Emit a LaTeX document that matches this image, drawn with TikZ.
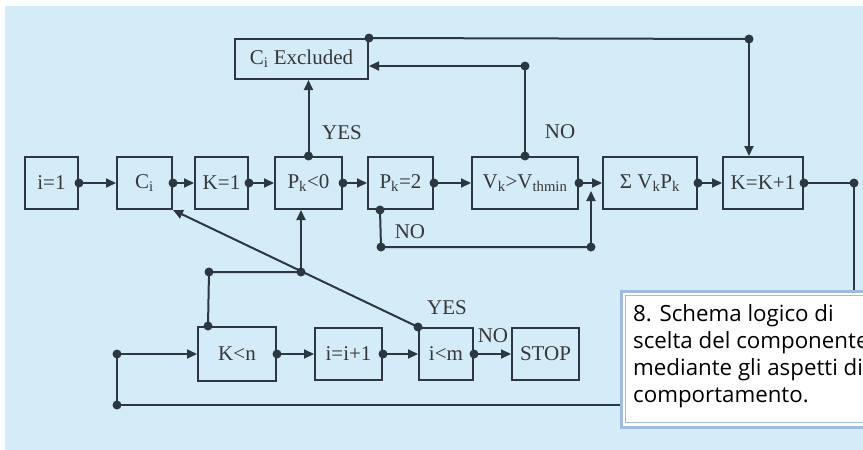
\documentclass[tikz,border=0pt]{standalone}
\usepackage{fontspec}
\setmainfont{Liberation Serif}
\newfontfamily\capfont{Open Sans}
\usetikzlibrary{arrows.meta}

\definecolor{bgblue}{RGB}{211,236,248}
\definecolor{linec}{RGB}{45,55,65}
\definecolor{txtc}{RGB}{55,55,55}
\definecolor{capedge}{RGB}{160,186,230}

\begin{document}
\begin{tikzpicture}[x=1pt,y=-1pt,font=\fontsize{21}{23}\selectfont,
  box/.style={draw=linec,line width=2pt,fill=bgblue,text=txtc,minimum height=52pt,inner sep=2pt},
  wire/.style={draw=linec,line width=2pt},
  flow/.style={wire,-{Triangle[length=10pt,width=9pt]}},
  lab/.style={text=txtc,inner sep=0pt}]

\useasboundingbox (0,0) rectangle (863,450);
\clip (0,0) rectangle (863,450);
\fill[white] (0,0) rectangle (863,450);
\fill[bgblue] (5,6) rectangle (863,450);

% upper row
\node[box,minimum width=53pt] (i1) at (51.5,183) {i=1};
\node[box,minimum width=55pt] (ci) at (144.5,183) {C\textsubscript{i}};
\node[box,minimum width=53pt] (k1) at (221.5,183) {K=1};
\node[box,minimum width=67pt] (pneg) at (308.5,183) {P\textsubscript{k}<0};
\node[box,minimum width=65pt] (ptwo) at (400.5,183) {P\textsubscript{k}=2};
\node[box,minimum width=106pt] (vk) at (525,183) {V\textsubscript{k}>V\textsubscript{thmin}};
\node[box,minimum width=94pt] (sum) at (650,183) {Σ V\textsubscript{k}P\textsubscript{k}};
\node[box,minimum width=80pt] (kinc) at (763,183) {K=K+1};
\node[box,minimum width=133pt,minimum height=40pt] (excl) at (301.5,59) {C\textsubscript{i} Excluded};

% lower row
\node[box,minimum width=78pt,minimum height=54pt] (kn) at (237,354) {K<n};
\node[box,minimum width=67pt] (iinc) at (348.5,354) {i=i+1};
\node[box,minimum width=54pt] (im) at (446,354) {i<m};
\node[box,minimum width=67pt] (stop) at (545.5,354) {STOP};

\coordinate (re) at (854,183);
\coordinate (lb) at (117,405);
\coordinate (lk) at (lb |- kn.west);
\coordinate (tr) at (749,39);
\coordinate (nv) at (525,66);
\coordinate (na) at ([xshift=13pt]ptwo.south west);
\coordinate (nb) at (381,247);
\coordinate (nc) at (591,247);
\coordinate (nd) at (591,191);
\coordinate (kt) at ([xshift=11pt]kn.north west);
\coordinate (kj) at (209,272);
\coordinate (pj) at (301,272);

% main chain
\draw[flow] (i1.east) -- (ci.west);
\draw[flow] (ci.east) -- (k1.west);
\draw[flow] (k1.east) -- (pneg.west);
\draw[flow] (pneg.east) -- (ptwo.west);
\draw[flow] (ptwo.east) -- (vk.west);
\draw[flow] (vk.east) -- (sum.west);
\draw[flow] (sum.east) -- (kinc.west);
\draw[wire] (kinc.east) -- (re) -- (re |- lb) -- (lb) -- (lk);
\draw[flow] (lk) -- (kn.west);

% feedback to the top
\draw[flow] (pneg.north) -- (pneg.north |- excl.south);
\node[lab] (yeslab1) at (342,133) {YES};
\draw[wire] (excl.north east) -- (tr);
\draw[flow] (tr) -- (tr |- kinc.north);
\draw[wire] (vk.north) -- (nv);
\draw[flow] (nv) -- (excl.east |- nv);
\node[lab] (nolab1) at (560,132) {NO};

\draw[wire] (na) -- (nb) -- (nc);
\draw[flow] (nc) -- (nd);
\node[lab] (nolab2) at (410,232) {NO};

% lower loop
\draw[wire] (kt) -- (kj) -- (pj);
\draw[flow] (pj) -- (pj |- pneg.south);
\draw[flow] (im.north west) -- (ci.south east);
\draw[flow] (kn.east) -- (iinc.west);
\draw[flow] (iinc.east) -- (im.west);
\draw[flow] (im.east) -- (stop.west);
\node[lab] (yeslab2) at (447,308) {YES};
\node[lab] (nolab3) at (493,336) {NO};

% junctions
\fill[linec] (i1.east) circle (4.5pt);
\fill[linec] (ci.east) circle (4.5pt);
\fill[linec] (k1.east) circle (4.5pt);
\fill[linec] (pneg.east) circle (4.5pt);
\fill[linec] (ptwo.east) circle (4.5pt);
\fill[linec] (vk.east) circle (4.5pt);
\fill[linec] (sum.east) circle (4.5pt);
\fill[linec] (kinc.east) circle (4.5pt);
\fill[linec] (re) circle (4.5pt);
\fill[linec] (lb) circle (4.5pt);
\fill[linec] (lk) circle (4.5pt);
\fill[linec] (pneg.north) circle (4.5pt);
\fill[linec] (excl.north east) circle (4.5pt);
\fill[linec] (tr) circle (4.5pt);
\fill[linec] (vk.north) circle (4.5pt);
\fill[linec] (nv) circle (4.5pt);
\fill[linec] (na) circle (4.5pt);
\fill[linec] (nb) circle (4.5pt);
\fill[linec] (nc) circle (4.5pt);
\fill[linec] (kt) circle (4.5pt);
\fill[linec] (kj) circle (4.5pt);
\fill[linec] (pj) circle (4.5pt);
\fill[linec] (im.north west) circle (4.5pt);
\fill[linec] (kn.east) circle (4.5pt);
\fill[linec] (iinc.east) circle (4.5pt);
\fill[linec] (im.east) circle (4.5pt);

% caption
\draw[capedge,line width=3pt,fill=white] (621,291) rectangle (880,427);
\draw[capedge,line width=0.8pt] (625.5,295.5) rectangle (880,422.5);
\node[anchor=north west,align=left,inner sep=0pt,text=black,
  font=\capfont\fontsize{22.3}{27}\selectfont] (cap) at (633,304)
  {8. Schema logico di\\scelta del componente\\mediante gli aspetti di\\comportamento.};

\end{tikzpicture}
\end{document}
